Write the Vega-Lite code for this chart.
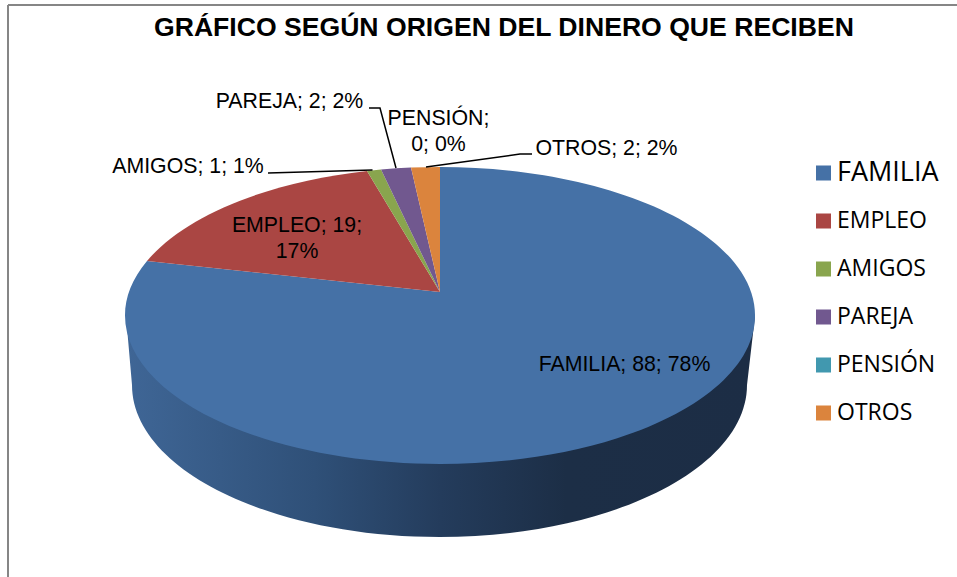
{
"$schema":"https://vega.github.io/schema/vega-lite/v6.json",
"width":957,"height":577,"padding":0,"autosize":"none","background":"white",
"title":{"text":"GRÁFICO SEGÚN ORIGEN DEL DINERO QUE RECIBEN","anchor":"start","frame":"group","orient":"top","offset":-36,"dx":154,"dy":27,"baseline":"alphabetic","font":"Liberation Sans","fontSize":26.6,"fontWeight":"bold","color":"#000000"},
"config":{"view":{"stroke":null}},
"data":{"values":[
{"origen":"FAMILIA","n":88,"pct":78,"etiqueta":"FAMILIA; 88; 78%"},
{"origen":"EMPLEO","n":19,"pct":17,"etiqueta":"EMPLEO; 19;\n17%"},
{"origen":"AMIGOS","n":1,"pct":1,"etiqueta":"AMIGOS; 1; 1%"},
{"origen":"PAREJA","n":2,"pct":2,"etiqueta":"PAREJA; 2; 2%"},
{"origen":"PENSIÓN","n":0,"pct":0,"etiqueta":"PENSIÓN;\n0; 0%"},
{"origen":"OTROS","n":2,"pct":2,"etiqueta":"OTROS; 2; 2%"}
]},
"resolve":{"scale":{"shape":"independent"}},
"layer":[
{"mark":{"type":"rule","color":"#868686","strokeWidth":1.5},"encoding":{"x":{"datum":8,"type":"quantitative","scale":{"domain":[0,957]},"axis":null},"y":{"datum":5,"type":"quantitative","scale":{"domain":[577,0]},"axis":null},"x2":{"datum":957}}},
{"mark":{"type":"rule","color":"#868686","strokeWidth":1.5},"encoding":{"x":{"datum":8,"type":"quantitative","scale":{"domain":[0,957]},"axis":null},"y":{"datum":5,"type":"quantitative","scale":{"domain":[577,0]},"axis":null},"y2":{"datum":577}}},
{"transform":[{"filter":"datum.origen==='FAMILIA'"}],
"mark":{"type":"point","filled":true,"opacity":1,"size":40000,"strokeWidth":0,
"shape":"M-3.14,0.24 L-3.08,0.93 A3.075,1.52 0 0 0 3.07,0.93 L3.15,0.24 Z",
"color":{"gradient":"linear","x1":0,"y1":0,"x2":1,"y2":0,"stops":[{"offset":0,"color":"#3F6696"},{"offset":0.3,"color":"#2F5078"},{"offset":0.5,"color":"#243C5C"},{"offset":0.7,"color":"#1C2E46"},{"offset":1,"color":"#1C2D45"}]}},
"encoding":{"x":{"datum":440,"type":"quantitative","scale":{"domain":[0,957]},"axis":null},"y":{"datum":292,"type":"quantitative","scale":{"domain":[577,0]},"axis":null}}},
{"mark":{"type":"point","filled":true,"opacity":1,"size":40000,"strokeWidth":0},
"encoding":{"x":{"datum":440,"type":"quantitative","scale":{"domain":[0,957]},"axis":null},"y":{"datum":292,"type":"quantitative","scale":{"domain":[577,0]},"axis":null},
"shape":{"field":"origen","type":"nominal","legend":null,"scale":{"domain":["FAMILIA","EMPLEO","AMIGOS","PAREJA","PENSIÓN","OTROS"],"range":[
"M0,0 L0,-1.25 A3.15,1.485 0 1 1 -2.93,-0.31 Z",
"M0,0 L-2.93,-0.31 A3.15,1.485 0 0 1 -0.73,-1.21 Z",
"M0,0 L-0.73,-1.21 A3.15,1.485 0 0 1 -0.59,-1.224 Z",
"M0,0 L-0.59,-1.224 A3.15,1.485 0 0 1 -0.29,-1.244 Z",
"M0,0",
"M0,0 L-0.29,-1.244 A3.15,1.485 0 0 1 0,-1.25 Z"]}},
"color":{"field":"origen","type":"nominal","scale":{"domain":["FAMILIA","EMPLEO","AMIGOS","PAREJA","PENSIÓN","OTROS"],"range":["#4571A6","#AA4643","#89A54E","#71588F","#4198AF","#DB843D"]},
"legend":{"title":null,"orient":"none","legendX":812,"legendY":156,"symbolType":"square","symbolSize":225,"symbolStrokeWidth":0,"labelFont":"Open Sans","labelFontSize":23,"labelColor":"#000000","labelOffset":2,"clipHeight":34,"rowPadding":14,"labelLimit":200,
"encoding":{"labels":{"fontSize":{"value":{"expr":"datum.value==='FAMILIA'?27:23"}}}}}}}},
{"transform":[{"filter":"indexof(['AMIGOS','PAREJA','OTROS'],datum.origen)>=0"}],
"mark":{"type":"point","filled":false,"opacity":1,"size":40000,"strokeWidth":1.5,"color":"#000000"},
"encoding":{"x":{"datum":440,"type":"quantitative","scale":{"domain":[0,957]},"axis":null},"y":{"datum":292,"type":"quantitative","scale":{"domain":[577,0]},"axis":null},
"shape":{"field":"origen","type":"nominal","legend":null,"scale":{"domain":["AMIGOS","PAREJA","OTROS"],"range":[
"M-1.72,-1.19 L-0.675,-1.22",
"M-0.71,-1.84 L-0.6,-1.84 L-0.44,-1.24",
"M-0.14,-1.25 L0.80,-1.38 L0.92,-1.38"]}}}},
{"transform":[{"filter":"datum.origen==='FAMILIA'"}],"mark":{"type":"text","font":"Liberation Sans","fontSize":21.3,"color":"#000000","lineBreak":"\n","lineHeight":26,"baseline":"middle"},"encoding":{"text":{"field":"etiqueta"},"x":{"datum":624.5,"type":"quantitative","scale":{"domain":[0,957]},"axis":null},"y":{"datum":365,"type":"quantitative","scale":{"domain":[577,0]},"axis":null}}},
{"transform":[{"filter":"datum.origen==='EMPLEO'"}],"mark":{"type":"text","font":"Liberation Sans","fontSize":21.3,"color":"#000000","lineBreak":"\n","lineHeight":26,"baseline":"middle"},"encoding":{"text":{"field":"etiqueta"},"x":{"datum":297,"type":"quantitative","scale":{"domain":[0,957]},"axis":null},"y":{"datum":226,"type":"quantitative","scale":{"domain":[577,0]},"axis":null}}},
{"transform":[{"filter":"datum.origen==='AMIGOS'"}],"mark":{"type":"text","font":"Liberation Sans","fontSize":21.3,"color":"#000000","lineBreak":"\n","lineHeight":26,"baseline":"middle"},"encoding":{"text":{"field":"etiqueta"},"x":{"datum":188,"type":"quantitative","scale":{"domain":[0,957]},"axis":null},"y":{"datum":167,"type":"quantitative","scale":{"domain":[577,0]},"axis":null}}},
{"transform":[{"filter":"datum.origen==='PAREJA'"}],"mark":{"type":"text","font":"Liberation Sans","fontSize":21.3,"color":"#000000","lineBreak":"\n","lineHeight":26,"baseline":"middle"},"encoding":{"text":{"field":"etiqueta"},"x":{"datum":289.5,"type":"quantitative","scale":{"domain":[0,957]},"axis":null},"y":{"datum":102,"type":"quantitative","scale":{"domain":[577,0]},"axis":null}}},
{"transform":[{"filter":"datum.origen==='PENSIÓN'"}],"mark":{"type":"text","font":"Liberation Sans","fontSize":21.3,"color":"#000000","lineBreak":"\n","lineHeight":26,"baseline":"middle"},"encoding":{"text":{"field":"etiqueta"},"x":{"datum":438.5,"type":"quantitative","scale":{"domain":[0,957]},"axis":null},"y":{"datum":119,"type":"quantitative","scale":{"domain":[577,0]},"axis":null}}},
{"transform":[{"filter":"datum.origen==='OTROS'"}],"mark":{"type":"text","font":"Liberation Sans","fontSize":21.3,"color":"#000000","lineBreak":"\n","lineHeight":26,"baseline":"middle"},"encoding":{"text":{"field":"etiqueta"},"x":{"datum":606.5,"type":"quantitative","scale":{"domain":[0,957]},"axis":null},"y":{"datum":149,"type":"quantitative","scale":{"domain":[577,0]},"axis":null}}}
]
}
